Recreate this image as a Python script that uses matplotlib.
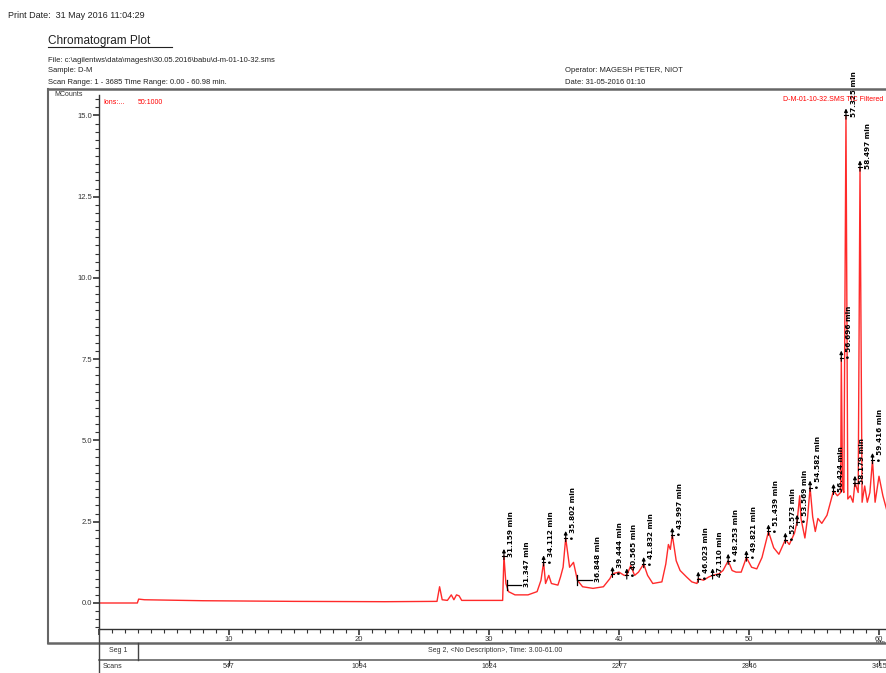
import matplotlib
matplotlib.use("Agg")
import matplotlib.pyplot as plt
from matplotlib.lines import Line2D
from matplotlib.transforms import blended_transform_factory

plt.rcParams['font.family'] = ['Liberation Sans', 'DejaVu Sans']

# chromatogram trace (time in min, signal in MCounts)
time_min = [0, 2.95, 3.05, 3.5, 8, 15, 22, 26.0, 26.2, 26.4, 26.8, 27.1, 27.3, 27.5, 27.7, 27.9,
            31.05, 31.15, 31.3, 31.5, 32.0, 33.0, 33.7, 34.0, 34.2, 34.35, 34.6, 34.8, 35.3, 35.5,
            35.7, 35.9, 36.2, 36.5, 36.8, 37.2, 38.0, 38.8, 39.3, 39.5, 40.0, 40.4, 40.6, 40.9,
            41.2, 41.5, 41.9, 42.2, 42.6, 43.3, 43.6, 43.8, 43.95, 44.1, 44.4, 44.7, 45.2, 45.6,
            46.0, 46.1, 46.5, 46.9, 47.2, 47.7, 48.0, 48.4, 48.7, 49.0, 49.4, 49.8, 50.2, 50.6,
            51.0, 51.5, 51.9, 52.3, 52.8, 53.1, 53.5, 53.7, 53.9, 54.0, 54.3, 54.5, 54.7, 54.9,
            55.1, 55.3, 55.6, 56.0, 56.5, 56.8, 57.05, 57.1, 57.2, 57.3, 57.46, 57.6, 57.8, 58.0,
            58.15, 58.4, 58.54, 58.7, 58.9, 59.1, 59.3, 59.5, 59.7, 60.0, 60.3, 60.77]
signal = [0.0, 0.0, 0.12, 0.1, 0.07, 0.05, 0.04, 0.05, 0.5, 0.1, 0.08, 0.25, 0.1, 0.25, 0.22, 0.08,
          0.08, 1.45, 0.6, 0.35, 0.25, 0.25, 0.35, 0.7, 1.25, 0.6, 0.85, 0.6, 0.55, 0.8,
          1.1, 2.0, 1.1, 1.25, 0.7, 0.5, 0.45, 0.5, 0.75, 0.9, 0.95, 0.85, 0.85, 1.15,
          0.85, 0.95, 1.2, 0.85, 0.6, 0.65, 1.2, 1.8, 1.65, 2.1, 1.3, 1.0, 0.8, 0.65,
          0.6, 0.75, 0.7, 0.8, 0.85, 0.9, 1.0, 1.3, 1.0, 0.95, 0.95, 1.4, 1.1, 1.05,
          1.4, 2.2, 1.7, 1.5, 1.95, 1.8, 2.15, 2.5, 3.3, 2.6, 2.0, 2.6, 3.55, 2.65,
          2.2, 2.6, 2.45, 2.7, 3.45, 3.3, 3.4, 7.55, 3.5, 3.4, 15.0, 3.2, 3.3, 3.1,
          3.7, 3.4, 13.4, 3.1, 3.6, 3.1, 3.4, 4.4, 3.1, 3.9, 3.3, 2.6]

# peak marks: position on the trace and label
peak_t = [31.15, 34.2, 35.9, 39.5, 40.6, 41.9, 44.1, 46.1, 47.2, 48.4, 49.8, 51.5, 52.8,
          53.7, 54.7, 56.5, 57.1, 57.46, 58.15, 58.54, 59.5]
peak_v = [1.45, 1.25, 2.0, 0.9, 0.85, 1.2, 2.1, 0.75, 0.85, 1.3, 1.4, 2.2, 1.95,
          2.5, 3.55, 3.45, 7.55, 15.0, 3.7, 13.4, 4.4]
peak_labels = ["31.159 min", "\u2022 34.112 min", "\u2022 35.802 min", "\u2022 39.444 min",
               "\u2022 40.565 min", "\u2022 41.832 min", "\u2022 43.997 min", "\u2022 46.023 min",
               "47.110 min", "\u2022 48.253 min", "\u2022 49.821 min", "\u2022 51.439 min",
               "\u2022 52.573 min", "\u2022 53.569 min", "\u2022 54.582 min", "56.424 min",
               "\u2022 56.696 min", "57.325 min", "58.179 min", "58.497 min", "\u2022 59.416 min"]
# marks drawn with a horizontal leader instead of an arrow
lead_t = [31.35, 36.8]
lead_v = [0.55, 0.7]
lead_labels = ["31.347 min", "36.848 min"]

x_ticks = [0, 10, 20, 30, 40, 50, 60]
x_ticklabels = ["", "10", "20", "30", "40", "50", "60"]
y_ticks = [0.0, 2.5, 5.0, 7.5, 10.0, 12.5, 15.0]
y_ticklabels = ["0.0", "2.5", "5.0", "7.5", "10.0", "12.5", "15.0"]
scan_t = [10, 20, 30, 40, 50, 60]
scan_labels = ["547", "1094", "1624", "2277", "2846", "3415"]

W, H = 887, 673
fig = plt.figure(figsize=(W / 100, H / 100), dpi=100)


def fx(x):
    return x / W


def fy(y):
    return 1 - y / H


def fig_line(x0, y0, x1, y1, lw=1.0, color="#555555"):
    fig.add_artist(Line2D([fx(x0), fx(x1)], [fy(y0), fy(y1)], transform=fig.transFigure,
                          lw=lw, color=color))


# header
txt = "#222222"
fig.text(fx(8), fy(16), "Print Date:  31 May 2016 11:04:29", fontsize=6.5, color=txt, va="center")
fig.text(fx(48), fy(41), "Chromatogram Plot", fontsize=8.5, color=txt, va="center")
fig_line(48, 47, 172, 47, lw=0.8, color=txt)
fig.text(fx(48), fy(61), "File: c:\\agilentws\\data\\magesh\\30.05.2016\\babu\\d-m-01-10-32.sms",
         fontsize=5.5, color=txt, va="center")
fig.text(fx(48), fy(71), "Sample: D-M", fontsize=5.5, color=txt, va="center")
fig.text(fx(48), fy(82), "Scan Range: 1 - 3685 Time Range: 0.00 - 60.98 min.", fontsize=5.5,
         color=txt, va="center")
fig.text(fx(565), fy(71), "Operator: MAGESH PETER, NIOT", fontsize=5.5, color=txt, va="center")
fig.text(fx(565), fy(82), "Date: 31-05-2016 01:10", fontsize=5.5, color=txt, va="center")

# frame around the plot
fig_line(48, 89, 887, 89, lw=1.8, color="#666666")
fig_line(48, 89, 48, 643, lw=1.5, color="#666666")
fig_line(48, 643, 887, 643, lw=1.8, color="#666666")
fig_line(99, 660, 887, 660, lw=1.2, color="#666666")
fig_line(99, 629, 99, 673, lw=1.0, color="#444444")
fig_line(138, 643, 138, 660, lw=1.0, color="#444444")

# main axes
ax = fig.add_axes([fx(99), fy(629), fx(889) - fx(99), fy(95) - fy(629)])
ax.set_xlim(0, 60.77)
ax.set_ylim(-0.8, 15.63)
ax.plot(time_min, signal, color="#ff2a2a", lw=1.0)

for t, v, lab in zip(peak_t, peak_v, peak_labels):
    ax.annotate("", xy=(t, v + 0.3), xytext=(t, v - 0.2),
                arrowprops=dict(arrowstyle="-|>", color="black", lw=0.8, mutation_scale=5))
    ax.plot([t - 0.12, t + 0.12], [v, v], color="black", lw=0.8)
    ax.text(t + 0.35, v - 0.05, lab, rotation=90, ha="left", va="bottom", fontsize=5.2,
            fontweight="bold", color="black", family="DejaVu Sans")

for t, v, lab in zip(lead_t, lead_v, lead_labels):
    ax.plot([t, t + 1.1], [v, v], color="black", lw=0.9)
    ax.plot([t, t], [v - 0.15, v + 0.15], color="black", lw=0.9)
    ax.text(t + 1.35, v - 0.05, lab, rotation=90, ha="left", va="bottom", fontsize=5.2,
            fontweight="bold", color="black", family="DejaVu Sans")

for side in ["top", "right"]:
    ax.spines[side].set_visible(False)
ax.spines["left"].set_color("#333333")
ax.spines["bottom"].set_color("#333333")
ax.spines["left"].set_linewidth(1.0)
ax.spines["bottom"].set_linewidth(1.0)

ax.set_xticks(x_ticks)
ax.set_xticklabels(x_ticklabels)
ax.set_xticks(range(0, 61), minor=True)
ax.set_yticks(y_ticks)
ax.set_yticklabels(y_ticklabels)
ax.set_yticks([i * 0.25 for i in range(-3, 63)], minor=True)
ax.tick_params(which="major", length=4, width=1.2, color="#333333", labelsize=5.5,
               labelcolor="#333333", pad=1)
ax.tick_params(which="minor", length=3, width=0.8, color="#333333")

ax.text(-0.02, 1.0, "MCounts", transform=ax.transAxes, ha="right", va="center", fontsize=5,
        color="#333333")
ax.text(0.35, 15.4, "Ions:...", fontsize=5, color="red", ha="left", va="center")
ax.text(3.0, 15.4, "50:1000", fontsize=5, color="red", ha="left", va="center")
ax.text(60.3, 15.5, "D-M-01-10-32.SMS TIC Filtered", fontsize=5, color="red", ha="right",
        va="center")

# segment and scan rows under the time axis
bt = blended_transform_factory(ax.transData, fig.transFigure)
ax.text(60.5, fy(642), "min", transform=bt, fontsize=4.5, color="#333333", ha="right",
        va="center")
ax.text(1.5, fy(651), "Seg 1", transform=bt, fontsize=5, color="#333333", ha="center",
        va="center")
ax.text(30.5, fy(651), "Seg 2, <No Description>, Time: 3.00-61.00", transform=bt, fontsize=5,
        color="#333333", ha="center", va="center")
ax.text(0.3, fy(667), "Scans", transform=bt, fontsize=5, color="#333333", ha="left",
        va="center")
for t, lab in zip(scan_t, scan_labels):
    ax.text(t, fy(667), lab, transform=bt, fontsize=5, color="#333333", ha="center",
            va="center")
    ax.add_artist(Line2D([t, t], [fy(660), fy(665)], transform=bt, color="#333333", lw=0.9,
                         clip_on=False))

fig.savefig("out.png", dpi=100)
